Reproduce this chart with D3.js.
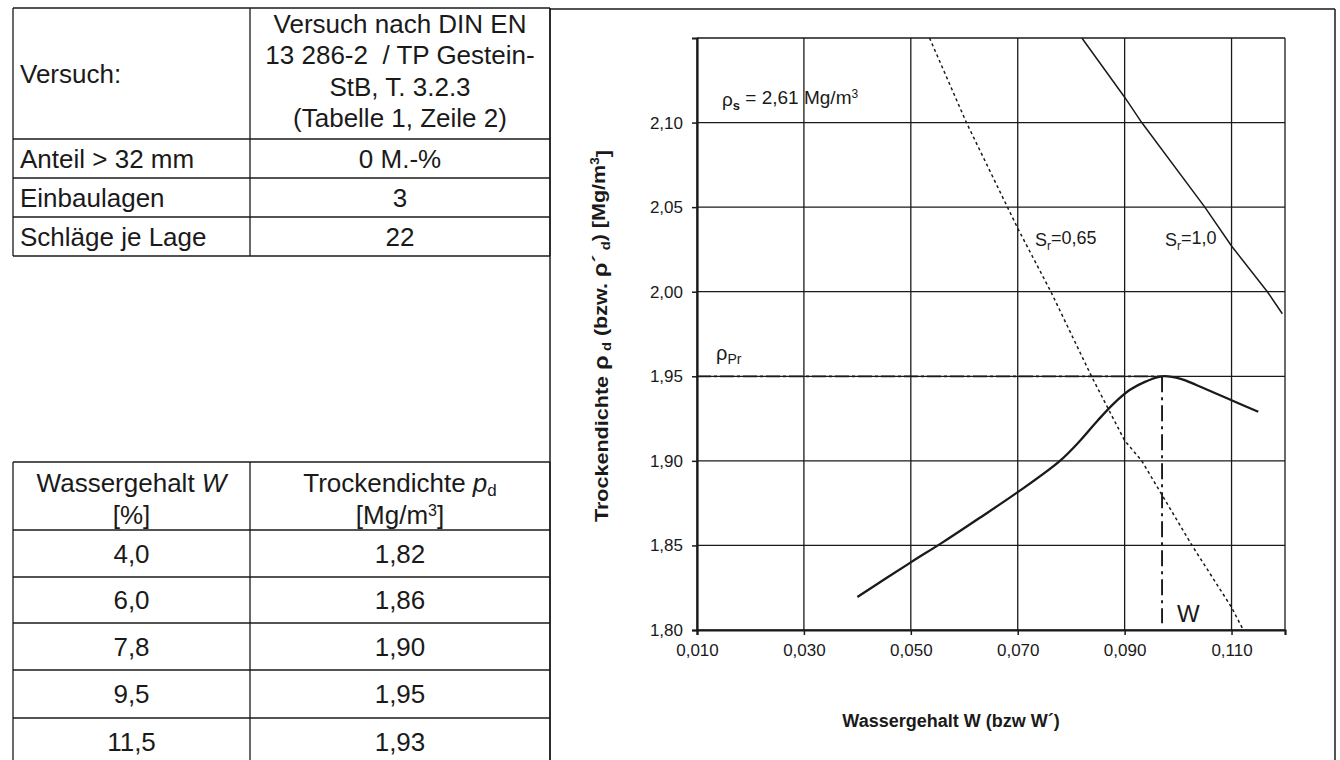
<!DOCTYPE html>
<html>
<head>
<meta charset="utf-8">
<script src="https://cdnjs.cloudflare.com/ajax/libs/d3/7.8.5/d3.min.js"></script>
<style>
  body { margin: 0; background: #fff; }
  svg { display: block; font-family: "Liberation Sans", Arial, sans-serif; }
</style>
</head>
<body>
<div id="chart"></div>
<script>
// ---- data ----
var infoLabels = ["Versuch:", "Anteil > 32 mm", "Einbaulagen", "Schläge je Lage"];
var infoValues = [["Versuch nach DIN EN", "13 286-2  / TP Gestein-", "StB, T. 3.2.3", "(Tabelle 1, Zeile 2)"],
                  ["0 M.-%"], ["3"], ["22"]];
var tableW   = ["4,0", "6,0", "7,8", "9,5", "11,5"];
var tableRho = ["1,82", "1,86", "1,90", "1,95", "1,93"];

var wTicks   = [0.010, 0.030, 0.050, 0.070, 0.090, 0.110];
var rhoTicks = [1.80, 1.85, 1.90, 1.95, 2.00, 2.05, 2.10];

// Proctor curve
var proctorW   = [0.040, 0.050, 0.0558, 0.0625, 0.070, 0.0779, 0.0817, 0.085, 0.088, 0.091, 0.094, 0.097, 0.1005, 0.1035, 0.110, 0.115];
var proctorRho = [1.8195, 1.840, 1.8515, 1.8655, 1.8815, 1.900, 1.912, 1.924, 1.934, 1.942, 1.947, 1.950, 1.9485, 1.9447, 1.9358, 1.929];
// saturation lines
var sr100W   = [0.082, 0.090, 0.0932, 0.105, 0.110, 0.1167, 0.1195];
var sr100Rho = [2.150, 2.115, 2.100, 2.050, 2.027, 2.000, 1.987];
var sr65W    = [0.0535, 0.0604, 0.070, 0.0762, 0.0838, 0.090, 0.0932, 0.1026, 0.110, 0.1122];
var sr65Rho  = [2.150, 2.100, 2.0375, 2.000, 1.950, 1.912, 1.900, 1.850, 1.8134, 1.800];
var rhoPr = 1.95, wOpt = 0.097;

var W = 1340, H = 760;
var svg = d3.select("#chart").append("svg").attr("width", W).attr("height", H);
var ink = "#1a1a1a";

// ---- frame ----
svg.append("line").attr("x1", 550).attr("x2", 550).attr("y1", 8).attr("y2", H).attr("stroke", ink).attr("stroke-width", 1.5);
svg.append("line").attr("x1", 550).attr("x2", 1335).attr("y1", 9).attr("y2", 9).attr("stroke", ink).attr("stroke-width", 1.5);
svg.append("line").attr("x1", 1335).attr("x2", 1335).attr("y1", 9).attr("y2", H).attr("stroke", ink).attr("stroke-width", 1.5);

// ---- tables ----
var colX = [13, 250, 550];
function hline(y) {
  svg.append("line").attr("x1", colX[0]).attr("x2", colX[2]).attr("y1", y).attr("y2", y).attr("stroke", ink).attr("stroke-width", 1.3);
}
function vlines(y1, y2) {
  colX.forEach(function(x) {
    svg.append("line").attr("x1", x).attr("x2", x).attr("y1", y1).attr("y2", y2).attr("stroke", ink).attr("stroke-width", 1.3);
  });
}
var infoRows = [8, 139, 178, 217, 256];
infoRows.forEach(hline);
vlines(8, 256);
var fs = 26;
infoLabels.forEach(function(t, i) {
  svg.append("text").attr("x", 20).attr("y", (infoRows[i] + infoRows[i + 1]) / 2).attr("dy", "0.36em")
    .attr("font-size", fs).attr("fill", ink).text(t);
});
infoValues.forEach(function(lines, i) {
  var mid = (infoRows[i] + infoRows[i + 1]) / 2, lh = 31.5;
  if (lines.length > 1) mid -= 3;
  lines.forEach(function(t, j) {
    svg.append("text").attr("x", (colX[1] + colX[2]) / 2)
      .attr("y", mid + (j - (lines.length - 1) / 2) * lh).attr("dy", "0.36em")
      .attr("text-anchor", "middle").attr("font-size", fs).attr("fill", ink).attr("xml:space", "preserve").text(t);
  });
});

var dataRows = [462, 530, 577, 623, 670, 718, 765];
dataRows.forEach(hline);
vlines(462, H);
var c1 = (colX[0] + colX[1]) / 2, c2 = (colX[1] + colX[2]) / 2;
function cell(xp, yp) {
  return svg.append("text").attr("x", xp).attr("y", yp).attr("dy", "0.36em").attr("text-anchor", "middle")
    .attr("font-size", fs).attr("fill", ink);
}
var h1 = cell(c1, 483);
h1.append("tspan").text("Wassergehalt ");
h1.append("tspan").attr("font-style", "italic").text("W");
cell(c1, 515).text("[%]");
var h2 = cell(c2, 483);
h2.append("tspan").text("Trockendichte ");
h2.append("tspan").attr("font-style", "italic").text("p");
h2.append("tspan").attr("font-size", 17).attr("dy", "0.2em").text("d");
var h3 = cell(c2, 515);
h3.append("tspan").text("[Mg/m");
h3.append("tspan").attr("font-size", 16).attr("dy", "-0.5em").text("3");
h3.append("tspan").attr("dy", "0.3em").text("]");
tableW.forEach(function(t, i) {
  var yp = (dataRows[i + 1] + dataRows[i + 2]) / 2;
  cell(c1, yp).text(t);
  cell(c2, yp).text(tableRho[i]);
});

// ---- chart ----
var x = d3.scaleLinear().domain([0.010, 0.120]).range([697, 1285]);
var y = d3.scaleLinear().domain([1.80, 2.15]).range([630, 38]);
var de = d3.formatLocale({ decimal: ",", thousands: "." });

var g = svg.append("g");
// grid
g.selectAll(".vg").data(wTicks.concat([0.120])).enter().append("line")
  .attr("x1", d => x(d)).attr("x2", d => x(d)).attr("y1", y(1.80)).attr("y2", y(2.15))
  .attr("stroke", ink).attr("stroke-width", 1.3);
g.selectAll(".hg").data(rhoTicks.concat([2.15])).enter().append("line")
  .attr("x1", x(0.010)).attr("x2", x(0.120)).attr("y1", d => y(d)).attr("y2", d => y(d))
  .attr("stroke", ink).attr("stroke-width", 1.3);

var yAxis = g.append("g").attr("transform", "translate(" + x(0.010) + ",0)")
  .call(d3.axisLeft(y).tickValues(rhoTicks).tickSize(5).tickPadding(9).tickFormat(de.format(".2f")));
var xAxis = g.append("g").attr("transform", "translate(0," + y(1.80) + ")")
  .call(d3.axisBottom(x).tickValues(wTicks).tickSize(5).tickPadding(9).tickFormat(de.format(".3f")));
[yAxis, xAxis].forEach(function(a) {
  a.select(".domain").attr("stroke", ink).attr("stroke-width", 2.2);
  a.selectAll(".tick line").attr("stroke", ink).attr("stroke-width", 1.5);
  a.selectAll("text").attr("font-size", 17).attr("fill", ink).attr("font-family", "Liberation Sans, Arial, sans-serif");
});

var line = d3.line().x(d => x(d[0])).y(d => y(d[1]));
g.append("path").datum(sr65W.map((w, i) => [w, sr65Rho[i]]))
  .attr("d", line).attr("fill", "none").attr("stroke", ink).attr("stroke-width", 1.5).attr("stroke-dasharray", "3,3");
g.append("path").datum(sr100W.map((w, i) => [w, sr100Rho[i]]))
  .attr("d", line).attr("fill", "none").attr("stroke", ink).attr("stroke-width", 1.5);
g.append("path").datum([[0.010, rhoPr], [wOpt, rhoPr]])
  .attr("d", line).attr("fill", "none").attr("stroke", ink).attr("stroke-width", 1.7).attr("stroke-dasharray", "14,3,3,3");
g.append("path").datum([[wOpt, rhoPr], [wOpt, 1.804]])
  .attr("d", line).attr("fill", "none").attr("stroke", ink).attr("stroke-width", 1.9).attr("stroke-dasharray", "16,5,3,5");
g.append("path").datum(proctorW.map((w, i) => [w, proctorRho[i]]))
  .attr("d", d3.line().x(d => x(d[0])).y(d => y(d[1])).curve(d3.curveCatmullRom.alpha(0.5)))
  .attr("fill", "none").attr("stroke", ink).attr("stroke-width", 2.3);

// labels inside the plot
var ls = g.append("text").attr("x", 722).attr("y", 106).attr("font-size", 19).attr("fill", ink);
ls.append("tspan").text("ρ");
ls.append("tspan").attr("font-size", 13).attr("font-weight", "bold").attr("dy", "0.3em").text("s");
ls.append("tspan").attr("dy", "-0.3em").text(" = 2,61 Mg/m");
ls.append("tspan").attr("font-size", 12).attr("dy", "-0.5em").text("3");

function srLabel(xp, v) {
  var t = g.append("text").attr("x", xp).attr("y", 246).attr("font-size", 18).attr("fill", ink);
  t.append("tspan").text("S");
  t.append("tspan").attr("font-size", 12).attr("dy", "0.3em").text("r");
  t.append("tspan").attr("dy", "-0.3em").text("=" + v);
}
srLabel(1035, "0,65");
srLabel(1165, "1,0");

var lp = g.append("text").attr("x", 716).attr("y", 360).attr("font-size", 20).attr("fill", ink);
lp.append("tspan").text("ρ");
lp.append("tspan").attr("font-size", 14).attr("dy", "0.3em").text("Pr");

g.append("text").attr("x", 1177).attr("y", 622).attr("font-size", 24).attr("fill", ink).text("W");

// axis titles
g.append("text").attr("x", 951).attr("y", 727).attr("text-anchor", "middle")
  .attr("font-size", 18).attr("font-weight", "bold").attr("fill", ink).text("Wassergehalt W (bzw W´)");
var yt = g.append("text").attr("transform", "translate(608,336) rotate(-90)").attr("text-anchor", "middle")
  .attr("font-size", 19).attr("font-weight", "bold").attr("fill", ink)
  .attr("textLength", 372).attr("lengthAdjust", "spacingAndGlyphs");
yt.append("tspan").text("Trockendichte ");
yt.append("tspan").attr("font-size", 21).text("ρ");
yt.append("tspan").attr("font-size", 13).attr("dy", "0.25em").text(" d");
yt.append("tspan").attr("dy", "-0.25em").text(" (bzw. ");
yt.append("tspan").attr("font-size", 21).text("ρ´");
yt.append("tspan").attr("font-size", 13).attr("dy", "0.25em").text(" d");
yt.append("tspan").attr("dy", "-0.25em").text(") [Mg/m");
yt.append("tspan").attr("font-size", 12).attr("dy", "-0.5em").text("3");
yt.append("tspan").attr("dy", "0.5em").text("]");
</script>
</body>
</html>
